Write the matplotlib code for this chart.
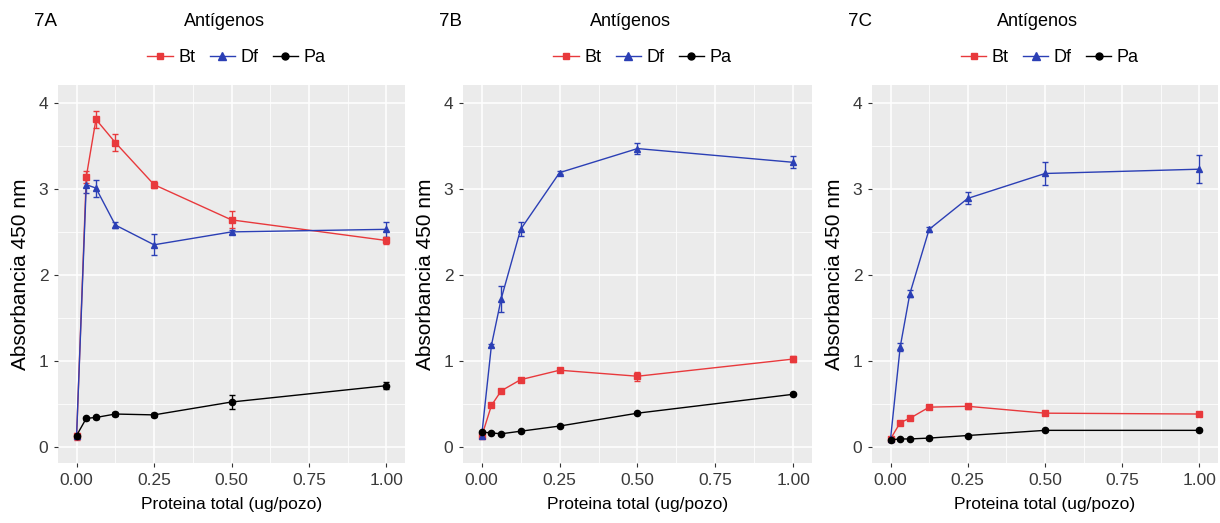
import matplotlib
matplotlib.use("Agg")
import matplotlib.pyplot as plt
import numpy as np

plt.rcParams['font.family'] = ['Liberation Sans', 'DejaVu Sans']

# proteina total (ug/pozo)
dosis = [0, 0.03125, 0.0625, 0.125, 0.25, 0.5, 1.0]

paneles = ["7A", "7B", "7C"]
antigenos = ["Bt", "Df", "Pa"]

# medias por panel y antigeno
bt_a = [0.12, 3.14, 3.81, 3.54, 3.05, 2.64, 2.40]
df_a = [0.13, 3.05, 3.01, 2.58, 2.35, 2.50, 2.53]
pa_a = [0.13, 0.33, 0.34, 0.38, 0.37, 0.52, 0.71]

bt_b = [0.12, 0.48, 0.65, 0.78, 0.89, 0.82, 1.02]
df_b = [0.13, 1.18, 1.72, 2.53, 3.19, 3.47, 3.31]
pa_b = [0.17, 0.16, 0.15, 0.18, 0.24, 0.39, 0.61]

bt_c = [0.09, 0.28, 0.33, 0.46, 0.47, 0.39, 0.38]
df_c = [0.09, 1.16, 1.78, 2.53, 2.89, 3.18, 3.23]
pa_c = [0.08, 0.09, 0.09, 0.10, 0.13, 0.19, 0.19]

# errores (+/-)
bt_a_err = [0.04, 0.07, 0.10, 0.10, 0.04, 0.10, 0.04]
df_a_err = [0.02, 0.10, 0.10, 0.03, 0.12, 0.02, 0.09]
pa_a_err = [0.02, 0.02, 0.02, 0.02, 0.02, 0.08, 0.04]

bt_b_err = [0.02, 0.02, 0.02, 0.02, 0.02, 0.05, 0.04]
df_b_err = [0.02, 0.02, 0.15, 0.08, 0.02, 0.06, 0.07]
pa_b_err = [0.01, 0.01, 0.01, 0.01, 0.01, 0.01, 0.01]

bt_c_err = [0.01, 0.02, 0.02, 0.02, 0.03, 0.02, 0.02]
df_c_err = [0.01, 0.05, 0.04, 0.03, 0.07, 0.13, 0.16]
pa_c_err = [0.01, 0.01, 0.01, 0.01, 0.01, 0.01, 0.01]

datos = [
    [(bt_a, bt_a_err), (df_a, df_a_err), (pa_a, pa_a_err)],
    [(bt_b, bt_b_err), (df_b, df_b_err), (pa_b, pa_b_err)],
    [(bt_c, bt_c_err), (df_c, df_c_err), (pa_c, pa_c_err)],
]

colores = {"Bt": "#E8393C", "Df": "#2B3FB5", "Pa": "#000000"}
marcadores = {"Bt": "s", "Df": "^", "Pa": "o"}
tam = {"Bt": 4.3, "Df": 5, "Pa": 4.5}

fig = plt.figure(figsize=(12.2, 5.23), dpi=100)
lefts = [58, 463, 872]
rights = [405, 812, 1218]
bottom = (523 - 463) / 523
top = (523 - 85) / 523

for i, panel in enumerate(paneles):
    l = lefts[i] / 1220
    w = (rights[i] - lefts[i]) / 1220
    ax = fig.add_axes([l, bottom, w, top - bottom])
    ax.set_facecolor("#EBEBEB")
    for s in ax.spines.values():
        s.set_visible(False)
    ax.set_xlim(-0.06, 1.06)
    ax.set_ylim(-0.19, 4.21)
    ax.set_xticks([0, 0.25, 0.5, 0.75, 1.0])
    ax.set_xticklabels(["0.00", "0.25", "0.50", "0.75", "1.00"])
    ax.set_yticks([0, 1, 2, 3, 4])
    ax.set_xticks([0.125, 0.375, 0.625, 0.875], minor=True)
    ax.set_yticks([0.5, 1.5, 2.5, 3.5], minor=True)
    ax.grid(which="major", color="white", linewidth=1.1)
    ax.grid(which="minor", color="white", linewidth=0.55)
    ax.set_axisbelow(True)
    ax.tick_params(which="major", length=3, width=0.8, color="#333333",
                   labelsize=12.5, labelcolor="#3A3A3A", pad=4)
    ax.tick_params(which="minor", length=0)

    for (medias, err), nombre in zip(datos[i], antigenos):
        c = colores[nombre]
        ax.errorbar(dosis, medias, yerr=err, color=c, marker=marcadores[nombre],
                    markersize=tam[nombre], linewidth=1.0, elinewidth=1.0,
                    capsize=2.5, capthick=1.0, label=nombre)

    ax.set_xlabel("Proteina total (ug/pozo)", fontsize=12.5, labelpad=7)
    ax.set_ylabel("Absorbancia 450 nm", fontsize=15, labelpad=6)

    cx = (lefts[i] + rights[i]) / 2 / 1220
    fig.text(lefts[i] / 1220 - 0.02, 1 - 22 / 523, panel, fontsize=13.5,
             ha="left", va="center")
    fig.text(cx - 0.006, 1 - 22 / 523, "Antígenos", fontsize=13,
             ha="center", va="center")
    fig.legend(handles=[plt.Line2D([], [], color=colores[n], marker=marcadores[n],
                                   markersize=tam[n] + 0.5, linewidth=1.0) for n in antigenos],
               labels=antigenos, loc="center", ncol=3,
               bbox_to_anchor=(cx + 0.004, 1 - 58 / 523), frameon=False,
               fontsize=13, handlelength=1.4, handletextpad=0.3,
               columnspacing=0.8)

fig.savefig("out.png", dpi=100)
